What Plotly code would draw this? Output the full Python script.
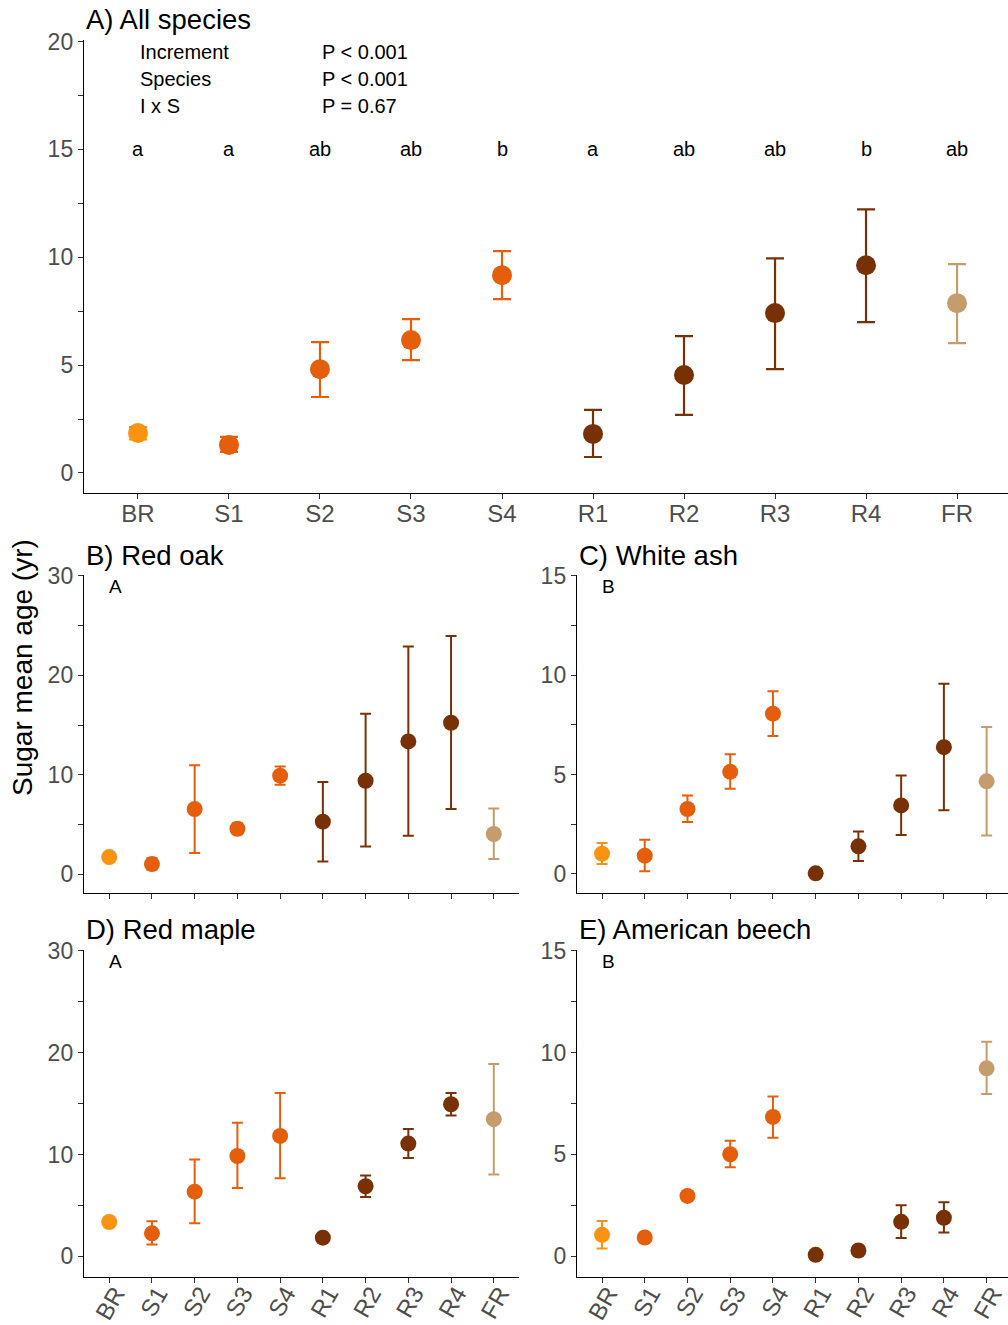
import plotly.graph_objects as go

W, H = 1008, 1325

cats = ["BR", "S1", "S2", "S3", "S4", "R1", "R2", "R3", "R4", "FR"]
groups = ["BR", "S", "S", "S", "S", "R", "R", "R", "R", "FR"]
group_colors = {"BR": "#FA9312", "S": "#E55E0B", "R": "#773104", "FR": "#C59D6D"}

# Panel A: all species
A_mean = [1.85, 1.30, 4.81, 6.16, 9.17, 1.81, 4.54, 7.41, 9.63, 7.87]
A_lo = [1.55, 0.98, 3.52, 5.23, 8.06, 0.74, 2.69, 4.81, 6.99, 6.02]
A_hi = [2.13, 1.67, 6.06, 7.13, 10.28, 2.92, 6.34, 9.95, 12.22, 9.68]
A_letters = ["a", "a", "ab", "ab", "b", "a", "ab", "ab", "b", "ab"]
stat_terms = ["Increment", "Species", "I x S"]
stat_p = ["P < 0.001", "P < 0.001", "P = 0.67"]

# Panel B: red oak
B_mean = [1.71, 1.00, 6.54, 4.56, 9.90, 5.27, 9.39, 13.35, 15.23, 4.03]
B_lo = [1.71, 0.45, 2.11, 4.00, 8.98, 1.27, 2.78, 3.85, 6.54, 1.51]
B_hi = [1.71, 1.60, 10.94, 5.10, 10.83, 9.26, 16.13, 22.90, 23.95, 6.60]

# Panel C: white ash
C_mean = [1.02, 0.92, 3.27, 5.14, 8.07, 0.03, 1.39, 3.45, 6.38, 4.66]
C_lo = [0.50, 0.13, 2.61, 4.29, 6.95, 0.03, 0.65, 1.96, 3.20, 1.93]
C_hi = [1.56, 1.72, 3.95, 6.03, 9.20, 0.03, 2.13, 4.96, 9.58, 7.40]

# Panel D: red maple
D_mean = [3.37, 2.26, 6.35, 9.85, 11.82, 1.83, 6.88, 11.07, 14.93, 13.46]
D_lo = [3.37, 1.15, 3.24, 6.71, 7.66, 1.83, 5.83, 9.66, 13.82, 8.03]
D_hi = [3.37, 3.44, 9.50, 13.10, 16.04, 1.83, 7.93, 12.51, 16.04, 18.89]

# Panel E: American beech
E_mean = [1.05, 0.92, 2.96, 5.01, 6.84, 0.07, 0.28, 1.69, 1.89, 9.23]
E_lo = [0.38, 0.92, 2.96, 4.37, 5.82, 0.07, 0.28, 0.89, 1.17, 7.97]
E_hi = [1.73, 0.92, 2.96, 5.67, 7.85, 0.07, 0.28, 2.51, 2.65, 10.53]

panels = [
    dict(key="", title="A) All species", mean=A_mean, lo=A_lo, hi=A_hi,
         px=(84, 1008), py=(40, 493), xr=[-0.593, 9.56], yr=[-0.93, 20.07],
         ymax=20, lab_step=5, minor=2.5, msize=20, cap=9, lw=2.2, letter=None, showx=True, angle=0,
         standoff=-6, shift=0),
    dict(key="2", title="B) Red oak", mean=B_mean, lo=B_lo, hi=B_hi,
         px=(84, 519), py=(575, 893), xr=[-0.59, 9.59], yr=[-1.91, 30.1],
         ymax=30, lab_step=10, minor=5, msize=16, cap=5.5, lw=2, letter=("A", 28.9), showx=False, angle=0,
         standoff=0, shift=0),
    dict(key="3", title="C) White ash", mean=C_mean, lo=C_lo, hi=C_hi,
         px=(577, 1008), py=(575, 893), xr=[-0.585, 9.5], yr=[-0.96, 15.05],
         ymax=15, lab_step=5, minor=2.5, msize=16, cap=5.5, lw=2, letter=("B", 14.45), showx=False, angle=0,
         standoff=0, shift=0),
    dict(key="4", title="D) Red maple", mean=D_mean, lo=D_lo, hi=D_hi,
         px=(84, 519), py=(950, 1277), xr=[-0.59, 9.59], yr=[-2.03, 30.07],
         ymax=30, lab_step=10, minor=5, msize=16, cap=5.5, lw=2, letter=("A", 28.9), showx=True, angle=-60,
         standoff=-13, shift=6),
    dict(key="5", title="E) American beech", mean=E_mean, lo=E_lo, hi=E_hi,
         px=(577, 1008), py=(950, 1277), xr=[-0.585, 9.5], yr=[-1.02, 15.04],
         ymax=15, lab_step=5, minor=2.5, msize=16, cap=5.5, lw=2, letter=("B", 14.47), showx=True, angle=-60,
         standoff=-13, shift=6),
]

FONT = "Liberation Sans, Arial, sans-serif"
fig = go.Figure()
annotations = []
layout = {}

for p in panels:
    k = p["key"]
    xa, ya = "x" + k, "y" + k
    for g in ["BR", "S", "R", "FR"]:
        idx = [i for i, gg in enumerate(groups) if gg == g]
        fig.add_trace(go.Scatter(
            x=idx,
            y=[p["mean"][i] for i in idx],
            mode="markers",
            marker=dict(color=group_colors[g], size=p["msize"], line=dict(width=0)),
            error_y=dict(type="data", symmetric=False,
                         array=[p["hi"][i] - p["mean"][i] for i in idx],
                         arrayminus=[p["mean"][i] - p["lo"][i] for i in idx],
                         color=group_colors[g], thickness=p["lw"], width=p["cap"]),
            xaxis=xa, yaxis=ya, showlegend=False, cliponaxis=False,
        ))
    n = int(round(p["ymax"] / p["minor"]))
    tv = [p["minor"] * j for j in range(n + 1)]
    tt = [(str(int(v)) if abs(v / p["lab_step"] - round(v / p["lab_step"])) < 1e-9 else "") for v in tv]
    xd = [p["px"][0] / W, p["px"][1] / W]
    yd = [1 - p["py"][1] / H, 1 - p["py"][0] / H]
    layout["xaxis" + k] = dict(
        domain=xd, range=p["xr"], anchor=ya, tickmode="array", tickvals=list(range(len(cats))),
        ticktext=cats, showticklabels=p["showx"], ticks="outside", ticklen=5, tickwidth=1.2,
        tickcolor="#333333", showline=True, linecolor="#000000", linewidth=1.4, showgrid=False,
        zeroline=False, tickangle=p["angle"], tickfont=dict(family=FONT, size=24, color="#4D4D4D"),
        ticklabelstandoff=p["standoff"], ticklabelshift=p["shift"],
        fixedrange=True, automargin=False,
    )
    layout["yaxis" + k] = dict(
        domain=yd, range=p["yr"], anchor=xa, tickmode="array", tickvals=tv, ticktext=tt,
        ticks="outside", ticklen=5, tickwidth=1.2, tickcolor="#333333", showline=True,
        linecolor="#000000", linewidth=1.4, showgrid=False, zeroline=False,
        tickfont=dict(family=FONT, size=23, color="#4D4D4D"), fixedrange=True, automargin=False,
    )
    annotations.append(dict(text=p["title"], xref="paper", yref="paper",
                            x=p["px"][0] / W, y=1 - (p["py"][0] - 20) / H,
                            xanchor="left", yanchor="middle", showarrow=False,
                            font=dict(family=FONT, size=27.5, color="#000000")))
    if p["letter"]:
        annotations.append(dict(text=p["letter"][0], xref=xa, yref=ya, x=0.15, y=p["letter"][1],
                                xanchor="center", yanchor="middle", showarrow=False,
                                font=dict(family=FONT, size=19, color="#000000")))

# Stats and letters in panel A
stat_y = [19.5, 18.24, 16.99]
for t, pv, yv in zip(stat_terms, stat_p, stat_y):
    annotations.append(dict(text=t, xref="x", yref="y", x=0, y=yv, xanchor="left", yanchor="middle",
                            showarrow=False, font=dict(family=FONT, size=20, color="#000000")))
    annotations.append(dict(text=pv, xref="x", yref="y", x=2, y=yv, xanchor="left", yanchor="middle",
                            showarrow=False, font=dict(family=FONT, size=20, color="#000000")))
for i, l in enumerate(A_letters):
    annotations.append(dict(text=l, xref="x", yref="y", x=i, y=15, xanchor="center", yanchor="middle",
                            showarrow=False, font=dict(family=FONT, size=20, color="#000000")))

annotations.append(dict(text="Sugar mean age (yr)", xref="paper", yref="paper", x=22 / W, y=1 - 668 / H,
                        xanchor="center", yanchor="middle", textangle=-90, showarrow=False,
                        font=dict(family=FONT, size=28, color="#000000")))

fig.update_layout(
    template="none",
    width=W, height=H, margin=dict(l=0, r=0, t=0, b=0, autoexpand=False),
    paper_bgcolor="white", plot_bgcolor="white",
    annotations=annotations, showlegend=False, **layout,
)

fig.write_html("out.html", config={"displayModeBar": False})
